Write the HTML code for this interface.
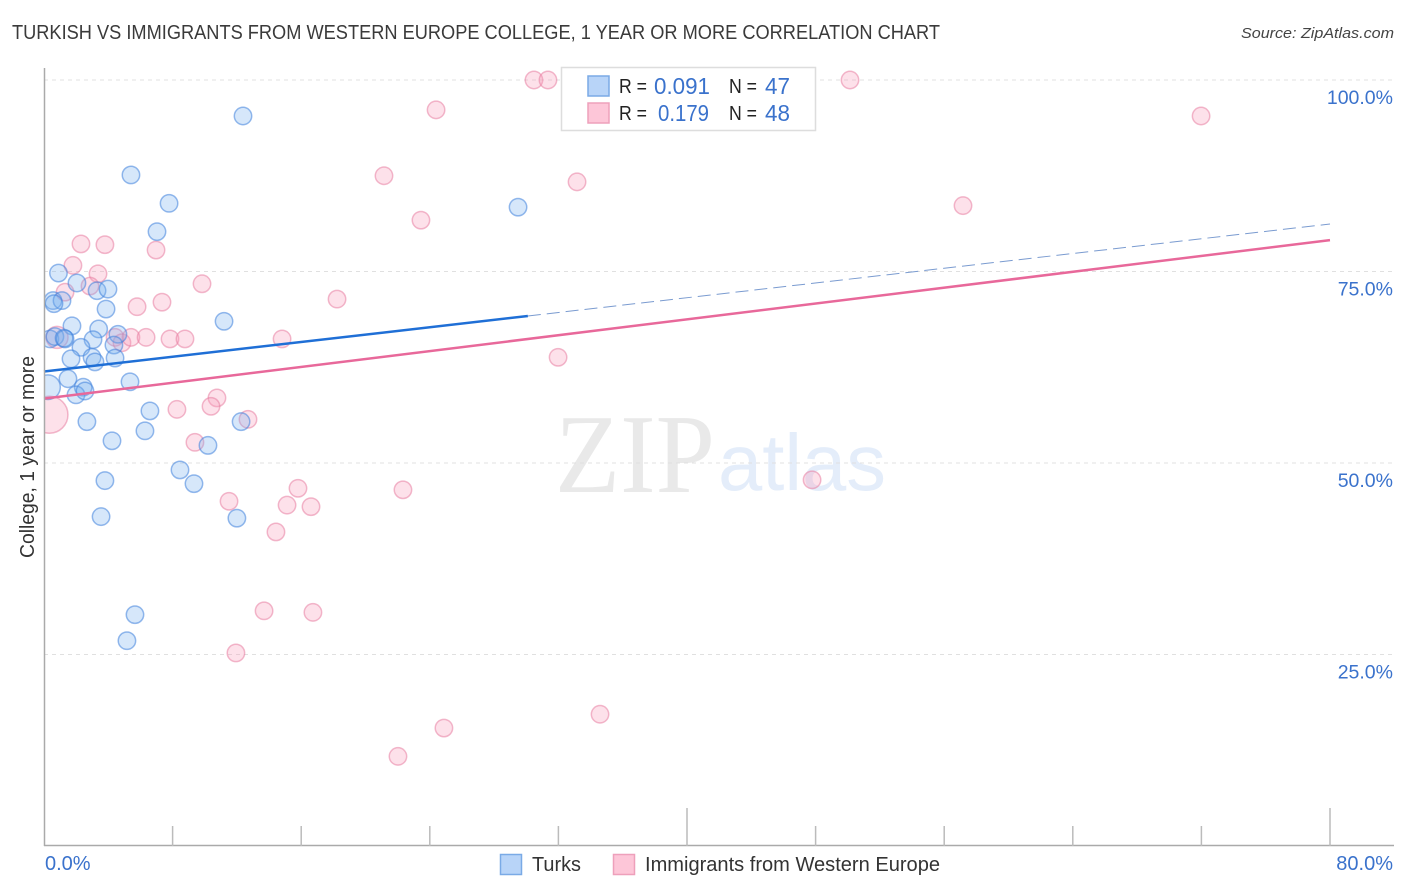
<!DOCTYPE html>
<html lang="en">
<head>
<meta charset="utf-8">
<title>Turkish vs Immigrants from Western Europe College, 1 Year or More Correlation Chart</title>
<style>
html,body{margin:0;padding:0;background:#fff;}
svg{display:block;font-family:"Liberation Sans",sans-serif;}
</style>
</head>
<body>
<svg id="chart" xmlns="http://www.w3.org/2000/svg" width="1406" height="892" viewBox="0 0 1406 892">
  <defs>
    <clipPath id="plot-clip"><rect x="45" y="60" width="1360" height="790"/></clipPath>
  </defs>
  <rect x="0" y="0" width="1406" height="892" fill="#fff"/>
  <text x="12" y="39" font-size="20" fill="#3a3a3a" textLength="928" lengthAdjust="spacingAndGlyphs">TURKISH VS IMMIGRANTS FROM WESTERN EUROPE COLLEGE, 1 YEAR OR MORE CORRELATION CHART</text>
  <text x="1394" y="38" font-size="15" font-style="italic" fill="#444" text-anchor="end" textLength="153" lengthAdjust="spacingAndGlyphs">Source: ZipAtlas.com</text>

  <g>
    <text x="555" y="492" font-family="'Liberation Serif',serif" font-size="112" fill="#e9e9e9" textLength="160" lengthAdjust="spacingAndGlyphs">ZIP</text>
    <text x="718" y="490" font-size="80" fill="#e4edfa" textLength="168" lengthAdjust="spacingAndGlyphs">atlas</text>
  </g>

  <g id="grid"></g>
  <g id="points-pink" clip-path="url(#plot-clip)"></g>
  <g id="points-blue" clip-path="url(#plot-clip)"></g>
  <g id="trends"></g>
  <g id="axes"></g>
  <g id="y-labels"></g>
  <g id="x-labels"></g>

  <text transform="translate(34,558) rotate(-90)" font-size="20" fill="#333" textLength="202" lengthAdjust="spacingAndGlyphs">College, 1 year or more</text>

  <g>
    <rect x="561.5" y="67.5" width="254" height="63" fill="#fff" stroke="#ddd" stroke-width="1.5"/>
    <rect x="588" y="76" width="21" height="20" fill="#b8d4f8" stroke="#7aaae6" stroke-width="1.5"/>
    <rect x="588" y="103" width="21" height="20" fill="#fdc6d8" stroke="#eea0bb" stroke-width="1.5"/>
    <text x="619" y="93" font-size="20" fill="#222" textLength="28" lengthAdjust="spacingAndGlyphs">R =</text>
    <text x="654" y="94" font-size="23" fill="#3a72cc" textLength="56" lengthAdjust="spacingAndGlyphs">0.091</text>
    <text x="729" y="93" font-size="20" fill="#222" textLength="28" lengthAdjust="spacingAndGlyphs">N =</text>
    <text x="765" y="94" font-size="23" fill="#3a72cc" textLength="25" lengthAdjust="spacingAndGlyphs">47</text>
    <text x="619" y="120" font-size="20" fill="#222" textLength="28" lengthAdjust="spacingAndGlyphs">R =</text>
    <text x="658" y="121" font-size="23" fill="#3a72cc" textLength="51" lengthAdjust="spacingAndGlyphs">0.179</text>
    <text x="729" y="120" font-size="20" fill="#222" textLength="28" lengthAdjust="spacingAndGlyphs">N =</text>
    <text x="765" y="121" font-size="23" fill="#3a72cc" textLength="25" lengthAdjust="spacingAndGlyphs">48</text>
  </g>

  <g>
    <g>
      <rect x="500.5" y="854.5" width="21" height="20" fill="#b8d4f8" stroke="#7aaae6" stroke-width="1.5"/>
      <text x="532" y="871" font-size="20" fill="#333" textLength="49" lengthAdjust="spacingAndGlyphs">Turks</text>
    </g>
    <g>
      <rect x="613.5" y="854.5" width="21" height="20" fill="#fdc6d8" stroke="#eea0bb" stroke-width="1.5"/>
      <text x="645" y="871" font-size="20" fill="#333" textLength="295" lengthAdjust="spacingAndGlyphs">Immigrants from Western Europe</text>
    </g>
  </g>
</svg>
<script>
const turksX = [12.38,5.41,7.78,7.03,29.49,0.90,2.05,3.30,3.98,0.56,1.12,0.62,3.86,11.2,1.74,3.40,4.60,0.37,0.68,1.31,1.25,3.05,4.35,2.30,2.99,4.42,1.68,3.17,1.49,5.35,0.25,2.44,1.99,2.55,6.59,2.67,12.26,6.28,4.23,10.2,8.46,9.33,3.79,3.55,12.0,5.66,5.16];
const turksY = [95.3,87.6,83.9,80.2,83.4,74.8,73.5,72.5,72.7,71.2,71.2,70.8,70.1,68.5,67.9,67.5,66.8,66.2,66.5,66.2,66.3,66.1,65.4,65.1,63.8,63.7,63.6,63.2,61.0,60.6,59.9,59.9,58.9,59.4,56.8,55.4,55.4,54.2,52.9,52.3,49.1,47.3,47.7,43.0,42.8,30.2,26.8];
const turksWeight = [1,1,1,1,1,1,1,1,1,1,1,1,1,1,1,1,1,1,1,1,1,1,1,1,1,1,1,1,1,1,2,1,1,1,1,1,1,1,1,1,1,1,1,1,1,1,1];

const immigrantsX = [30.48,31.35,50.14,24.39,71.98,21.15,33.16,23.45,57.17,2.30,3.79,6.97,1.80,3.36,2.86,1.31,9.83,7.34,5.79,18.23,0.81,4.42,4.85,5.41,6.35,7.84,8.77,14.81,31.98,0.34,8.27,10.76,10.39,12.69,9.39,11.51,15.8,15.12,16.61,14.43,13.69,16.73,11.94,47.78,22.33,22.02,24.88,34.59];
const immigrantsY = [100,100,100,96.1,95.3,87.5,86.7,81.7,83.6,78.6,78.5,77.8,75.8,74.7,73.1,72.3,73.4,71.0,70.4,71.4,66.4,66.4,65.7,66.4,66.4,66.2,66.2,66.2,63.8,56.3,57.0,58.5,57.4,55.7,52.7,45.0,46.7,44.5,44.3,41.0,30.7,30.5,25.2,47.8,46.5,11.7,15.4,17.2];
const immigrantsWeight = [1,1,1,1,1,1,1,1,1,1,1,1,1,1,1,1,1,1,1,1,1.6,1,1,1,1,1,1,1,1,4.5,1,1,1,1,1,1,1,1,1,1,1,1,1,1,1,1,1,1];

const trendXRange = [0, 80];
const turksTrendY = [61.95, 81.2];
const turksSolidUntil = [30.1];
const immigrantsTrendY = [58.4, 79.1];

const yTickValues = [100, 75, 50, 25];
const yTickLabels = ["100.0%", "75.0%", "50.0%", "25.0%"];
const xTickValues = [0, 8, 16, 24, 32, 40, 48, 56, 64, 72, 80];
const xMajorTicks = [40, 80];
const xEndValues = [0, 80];
const xEndLabels = ["0.0%", "80.0%"];

const NS = 'http://www.w3.org/2000/svg';
function xScale(v){ return 44 + v * 16.075; }
function yScale(v){ return 80 + (100 - v) * 7.66; }
function rScale(w){ return 8.7 * Math.sqrt(w); }
function make(tag, attrs, parent){
  const el = document.createElementNS(NS, tag);
  for (const k in attrs) el.setAttribute(k, attrs[k]);
  parent.appendChild(el);
  return el;
}

const grid = document.getElementById('grid');
yTickValues.forEach(function(v){
  const el = make('line', {x1:44, x2:1394, y1:yScale(v), y2:yScale(v), stroke:'#e0e0e0', 'stroke-width':1, 'stroke-dasharray':'4 4'}, grid);
  
  
});

function drawPoints(groupId, xs, ys, ws, fill, stroke, label){
  const g = document.getElementById(groupId);
  xs.forEach(function(x, i){
    const c = make('circle', {cx:xScale(x), cy:yScale(ys[i]), r:rScale(ws[i]), fill:fill, 'fill-opacity':0.3, stroke:stroke, 'stroke-opacity':0.55, 'stroke-width':1.5}, g);
    
    
  });
}
drawPoints('points-pink', immigrantsX, immigrantsY, immigrantsWeight, '#f79ab8', '#e87fa3', 'immigrants-point');
drawPoints('points-blue', turksX, turksY, turksWeight, '#78aeF0', '#3f82dc', 'turks-point');

const trends = document.getElementById('trends');
function trendAt(series, x){
  return series[0] + (series[1] - series[0]) * (x - trendXRange[0]) / (trendXRange[1] - trendXRange[0]);
}
const blueDash = make('line', {x1:xScale(turksSolidUntil[0]), y1:yScale(trendAt(turksTrendY, turksSolidUntil[0])), x2:xScale(trendXRange[1]), y2:yScale(turksTrendY[1]), stroke:'#7a9bd0', 'stroke-width':1, 'stroke-dasharray':'13 6'}, trends);


const pinkLine = make('line', {x1:xScale(trendXRange[0]), y1:yScale(immigrantsTrendY[0]), x2:xScale(trendXRange[1]), y2:yScale(immigrantsTrendY[1]), stroke:'#e8689a', 'stroke-width':2.5}, trends);


const blueLine = make('line', {x1:xScale(trendXRange[0]), y1:yScale(turksTrendY[0]), x2:xScale(turksSolidUntil[0]), y2:yScale(trendAt(turksTrendY, turksSolidUntil[0])), stroke:'#1f6fd6', 'stroke-width':2.5}, trends);



const axes = document.getElementById('axes');
const yAxis = make('line', {x1:44.5, x2:44.5, y1:68, y2:846, stroke:'#aaa', 'stroke-width':1.5}, axes);


const xAxis = make('line', {x1:44, x2:1394, y1:845.5, y2:845.5, stroke:'#aaa', 'stroke-width':1.5}, axes);


xTickValues.forEach(function(v){
  if (v === 0) return;
  const top = xMajorTicks.indexOf(v) >= 0 ? 808 : 826;
  const t = make('line', {x1:xScale(v), x2:xScale(v), y1:top, y2:846, stroke:'#bbb', 'stroke-width':1.5}, axes);
  
  
});

const yLabels = document.getElementById('y-labels');
yTickValues.forEach(function(v, i){
  const t = make('text', {x:1393, y:yScale(v) + 24, 'font-size':19.5, fill:'#3a72cc', 'text-anchor':'end'}, yLabels);
  
  
  t.textContent = yTickLabels[i];
});

const xLabels = document.getElementById('x-labels');
xEndValues.forEach(function(v, i){
  const anchor = i === 0 ? 'start' : 'end';
  const px = i === 0 ? xScale(v) + 1 : xScale(v) + 63;
  const t = make('text', {x:px, y:870, 'font-size':20, fill:'#3a72cc', 'text-anchor':anchor}, xLabels);
  
  
  t.textContent = xEndLabels[i];
});
</script>
</body>
</html>
